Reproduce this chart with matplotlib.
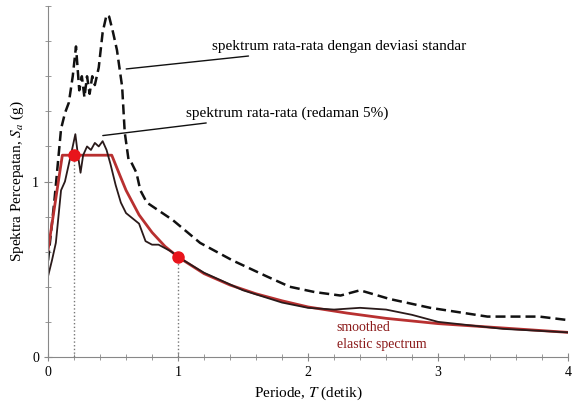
import matplotlib.pyplot as plt
from matplotlib.ticker import MultipleLocator, FixedLocator

plt.rcParams['font.family'] = ['Liberation Serif', 'DejaVu Serif']
plt.rcParams['mathtext.fontset'] = 'stix'

# spektrum rata-rata dengan deviasi standar (garis putus-putus)
t_std = [0, 0.05, 0.1, 0.13, 0.16, 0.19, 0.215, 0.24, 0.26, 0.28, 0.3, 0.32, 0.34, 0.36,
         0.39, 0.42, 0.45, 0.47, 0.5, 0.53, 0.57, 0.59, 0.62, 0.64, 0.68, 0.71, 0.76, 0.84,
         0.96, 1.17, 1.42, 1.68, 1.86, 2.05, 2.25, 2.4, 2.63, 2.94, 3.38, 3.78, 4.0]
sa_std = [0.55, 0.9, 1.3, 1.39, 1.45, 1.6, 1.77, 1.52, 1.6, 1.48, 1.6, 1.5, 1.6, 1.55,
          1.65, 1.85, 1.95, 1.94, 1.85, 1.75, 1.54, 1.28, 1.12, 1.11, 1.05, 0.95, 0.88, 0.84,
          0.78, 0.65, 0.55, 0.46, 0.40, 0.37, 0.35, 0.38, 0.33, 0.28, 0.23, 0.23, 0.21]

# spektrum rata-rata (redaman 5%)
t_mean = [0, 0.03, 0.06, 0.1, 0.13, 0.16, 0.19, 0.21, 0.23, 0.25, 0.27, 0.3, 0.33, 0.36,
          0.39, 0.42, 0.45, 0.48, 0.52, 0.56, 0.6, 0.65, 0.7, 0.75, 0.8, 0.85, 0.9, 0.95,
          1.0, 1.2, 1.5, 1.8, 2.0, 2.2, 2.4, 2.6, 2.8, 3.0, 3.5, 4.0]
sa_mean = [0.46, 0.55, 0.65, 0.95, 1.0, 1.1, 1.2, 1.27, 1.15, 1.05, 1.15, 1.2, 1.18, 1.22,
           1.2, 1.23, 1.18, 1.1, 0.98, 0.88, 0.82, 0.79, 0.76, 0.66, 0.64, 0.64, 0.62, 0.6,
           0.57, 0.48, 0.38, 0.31, 0.28, 0.27, 0.28, 0.27, 0.24, 0.2, 0.16, 0.14]

# smoothed elastic spectrum
t_smooth = [0, 0.11, 0.49, 0.55, 0.6, 0.7, 0.8, 0.9, 1.0, 1.2, 1.4, 1.6, 1.8, 2.0,
            2.3, 2.6, 3.0, 3.5, 4.0]
sa_smooth = [0.61, 1.15, 1.15, 1.04, 0.95, 0.81, 0.71, 0.63, 0.57, 0.475, 0.41, 0.36,
             0.32, 0.285, 0.25, 0.22, 0.19, 0.165, 0.14]

# titik kontrol
t_pts = [0.2, 1.0]
sa_pts = [1.15, 0.57]

fig = plt.figure(figsize=(5.72, 4.07), dpi=100)
ax = fig.add_axes([0.084, 0.123, 0.909, 0.862])

for t, s in zip(t_pts, sa_pts):
    ax.plot([t, t], [0, s], color='#777777', lw=1, ls=':')

ax.plot(t_std, sa_std, color='#111111', lw=1.8, ls=(0, (4, 2)))
ax.plot(t_smooth, sa_smooth, color='#b83030', lw=2.0)
ax.plot(t_mean, sa_mean, color='#2a1a1a', lw=1.3)
ax.plot(t_pts, sa_pts, 'o', color='#e8141b', ms=8, zorder=5)

ax.annotate('spektrum rata-rata dengan deviasi standar', xy=(0.58, 1.64),
            xytext=(1.26, 1.77), va='center', fontsize=11,
            arrowprops=dict(arrowstyle='-', color='#111111', lw=1))
ax.annotate('spektrum rata-rata (redaman 5%)', xy=(0.4, 1.26),
            xytext=(1.06, 1.39), va='center', fontsize=11,
            arrowprops=dict(arrowstyle='-', color='#111111', lw=1))
ax.text(2.22, 0.165, 'smoothed', color='#8b1a1a', fontsize=10, va='center')
ax.text(2.22, 0.07, 'elastic spectrum', color='#8b1a1a', fontsize=10, va='center')

ax.set_xlim(0, 4)
ax.set_ylim(0, 2)
ax.xaxis.set_major_locator(MultipleLocator(1))
ax.xaxis.set_minor_locator(MultipleLocator(0.2))
ax.yaxis.set_major_locator(FixedLocator([0, 1]))
ax.yaxis.set_minor_locator(MultipleLocator(0.2))
ax.tick_params(which='both', direction='inout', color='#888888', labelsize=10)
ax.tick_params(which='major', length=6)
ax.tick_params(which='minor', length=4)
for side in ['top', 'right']:
    ax.spines[side].set_visible(False)
for side in ['left', 'bottom']:
    ax.spines[side].set_color('#888888')

ax.set_xlabel('Periode, $T$ (detik)', fontsize=11)
ax.set_ylabel('Spektra Percepatan, $S_a$ (g)', fontsize=11)

fig.savefig('out.png', dpi=100)
